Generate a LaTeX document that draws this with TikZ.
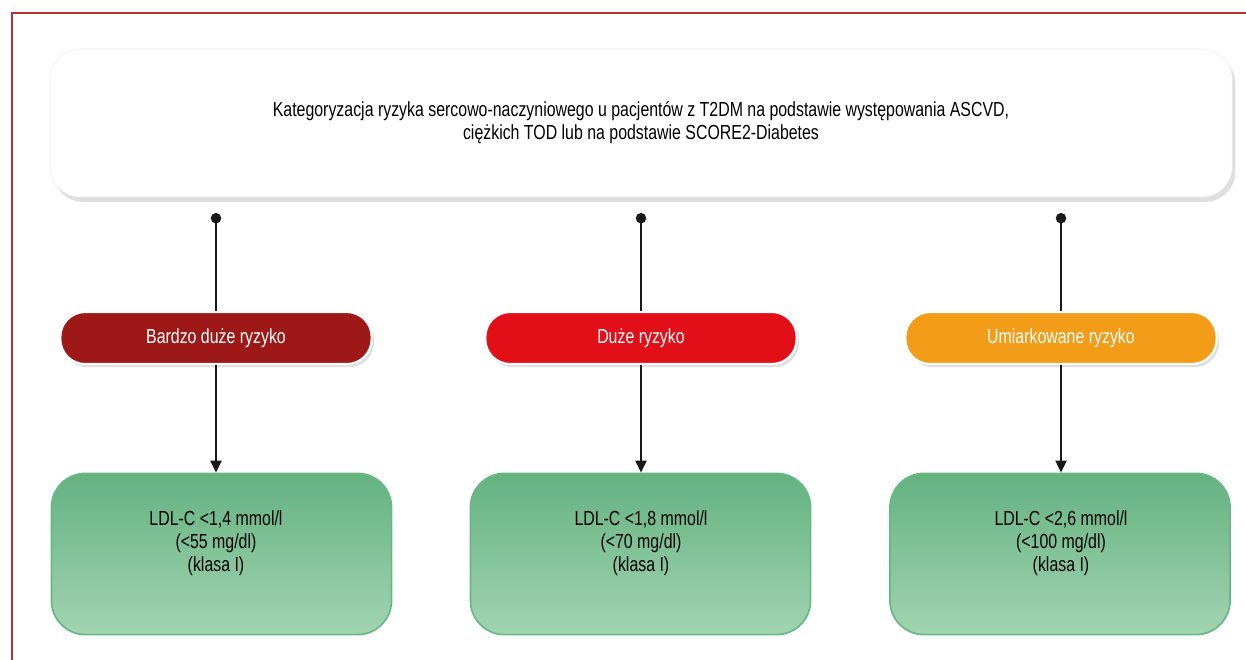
\documentclass[tikz,border=0pt]{standalone}
\usepackage{fontspec}
\setmainfont[FakeStretch=0.78]{Liberation Sans}
\usetikzlibrary{arrows.meta, positioning, shadows}
\definecolor{framered}{RGB}{178,52,52}
\definecolor{riskvh}{RGB}{158,24,24}
\definecolor{riskh}{RGB}{226,14,24}
\definecolor{riskm}{RGB}{242,156,24}
\definecolor{goaltop}{RGB}{100,178,128}
\definecolor{goalbot}{RGB}{162,212,178}
\definecolor{goalline}{RGB}{104,184,134}

\begin{document}
\begin{tikzpicture}[x=0.025cm, y=-0.025cm,
    every node/.style={font=\fontsize{14.5}{16.2}\selectfont},
    header/.style={draw=black!7, fill=white, rounded corners=0.75cm,
        minimum width=29.55cm, minimum height=3.7cm, align=center,
        drop shadow={shadow xshift=0.8mm, shadow yshift=-1.2mm, opacity=0.25}},
    risk/.style={draw=white, line width=1.5pt, text=white,
        rounded corners=0.62cm, minimum width=7.78cm, minimum height=1.3cm,
        drop shadow={shadow xshift=0.6mm, shadow yshift=-0.8mm, opacity=0.25}},
    goal/.style={draw=goalline, line width=1.2pt, rounded corners=0.85cm,
        top color=goaltop, bottom color=goalbot,
        minimum width=8.5cm, minimum height=4.03cm},
    goaltext/.style={align=center},
    conn/.style={line width=1.2pt, black!90}]
    \useasboundingbox (0,0) rectangle (1246,659);
    \draw[framered, line width=1pt] (12,13) rectangle (1270,690);

    \node[header] (top) at (641,123)
        {Kategoryzacja ryzyka sercowo-naczyniowego u pacjentów z T2DM na podstawie występowania ASCVD,\\
         ciężkich TOD lub na podstawie SCORE2-Diabetes};

    \node[risk, fill=riskvh] (p1) at (216,338)  {Bardzo duże ryzyko};
    \node[risk, fill=riskh]  (p2) at (641,338)  {Duże ryzyko};
    \node[risk, fill=riskm]  (p3) at (1061,338) {Umiarkowane ryzyko};

    \node[goal] (g1) at (221.5,554) {};
    \node[goal] (g2) at (640.5,554) {};
    \node[goal] (g3) at (1060,554)  {};
    \node[goaltext] (g1t) at (216,543) {LDL-C <1,4 mmol/l\\(<55 mg/dl)\\(klasa I)};
    \node[goaltext] (g2t) at (641,543) {LDL-C <1,8 mmol/l\\(<70 mg/dl)\\(klasa I)};
    \node[goaltext] (g3t) at (1061,543) {LDL-C <2,6 mmol/l\\(<100 mg/dl)\\(klasa I)};

    \coordinate (d1) at (216,213);
    \coordinate (d2) at (641,213);
    \coordinate (d3) at (1061,213);

    \foreach \i in {1,2,3}{
        \draw[conn, {Circle[length=2.6mm]}-] (d\i) -- (p\i.north);
        \draw[conn, -{Triangle[length=3mm, width=2.8mm]}] (p\i.south) -- (p\i.south |- g\i.north);
    }
\end{tikzpicture}
\end{document}
